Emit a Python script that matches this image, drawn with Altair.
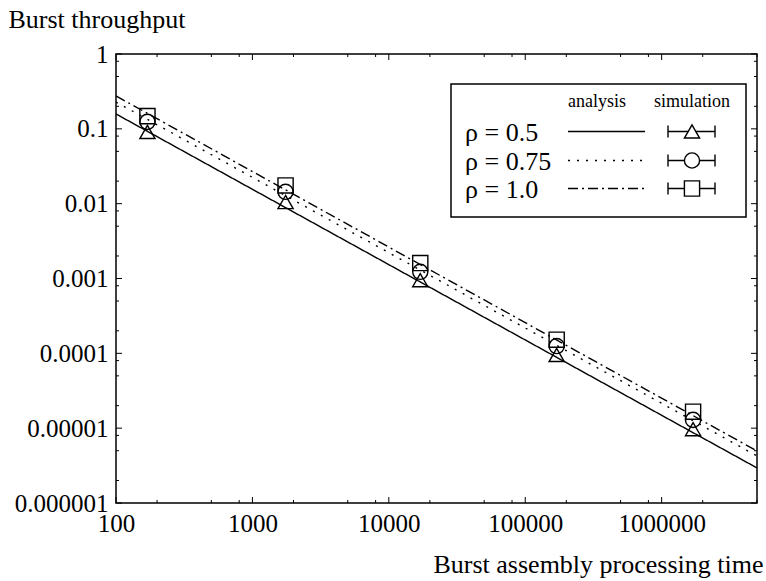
import altair as alt
import pandas as pd

# ---------------- data ----------------
rho_labels = ["0.5", "0.75", "1.0"]
legend_texts = ["ρ = 0.5", "ρ = 0.75", "ρ = 1.0"]
shapes = ["triangle-up", "circle", "square"]
dashes = [[1, 0], [2, 7], [10, 4, 2, 4]]

analysis_x = [100, 5000000]
analysis_05 = [0.158, 0.00000294]
analysis_075 = [0.228, 0.00000425]
analysis_10 = [0.275, 0.00000495]

sim_x = [170, 1750, 17000, 170000, 1700000]
sim_05 = [0.0907, 0.0105, 0.00095, 0.000095, 0.0000097]
sim_075 = [0.124, 0.0144, 0.00123, 0.000125, 0.0000129]
sim_10 = [0.148, 0.0175, 0.00161, 0.000152, 0.0000166]

x_major = [100, 1000, 10000, 100000, 1000000]
y_major = [1, 0.1, 0.01, 0.001, 0.0001, 0.00001, 0.000001]
x_minor = [m * 10 ** k for k in range(2, 7) for m in (2, 5, 8) if m * 10 ** k <= 5000000]
y_minor = [m * 10.0 ** k for k in range(-6, 0) for m in (2, 5, 8)]

# ---------------- tables ----------------
ana = {"0.5": analysis_05, "0.75": analysis_075, "1.0": analysis_10}
sim = {"0.5": sim_05, "0.75": sim_075, "1.0": sim_10}
df_lines = pd.DataFrame([
    {"rho": r, "x": x, "y": y} for r in rho_labels for x, y in zip(analysis_x, ana[r])
])
df_sim = pd.DataFrame([
    {"rho": r, "x": x, "y": y} for r in rho_labels for x, y in zip(sim_x, sim[r])
])

W, H = 641, 449
FONT = "Liberation Serif"
xs = alt.Scale(type="log", domain=[100, 5000000], nice=False)
ys = alt.Scale(type="log", domain=[0.000001, 1], nice=False)

x_axis = alt.Axis(values=x_major, format="d", title="Burst assembly processing time",
                  titleAlign="right", titleBaseline="alphabetic", titleX=647, titleY=69,
                  titleAngle=0)
y_axis = alt.Axis(values=y_major, format=".6~f", title="Burst throughput",
                  titleAlign="left", titleBaseline="alphabetic", titleX=-108, titleY=-27,
                  titleAngle=0)

lines = alt.Chart(df_lines).mark_line(color="black", strokeWidth=1.4, clip=True).encode(
    x=alt.X("x:Q", scale=xs, axis=x_axis),
    y=alt.Y("y:Q", scale=ys, axis=y_axis),
    strokeDash=alt.StrokeDash("rho:N", scale=alt.Scale(domain=rho_labels, range=dashes), legend=None),
)

points = alt.Chart(df_sim).mark_point(filled=False, color="black", strokeWidth=1.4,
                                      size=230, opacity=1).encode(
    x=alt.X("x:Q", scale=xs),
    y=alt.Y("y:Q", scale=ys),
    shape=alt.Shape("rho:N", scale=alt.Scale(domain=rho_labels, range=shapes), legend=None),
)

layers = [lines, points]

# inward ticks on all sides
def xticks(vals, length):
    d = pd.DataFrame({"v": vals})
    bottom = alt.Chart(d).mark_rule(color="black", strokeWidth=1).encode(
        x=alt.X("v:Q", scale=xs), y=alt.value(H), y2=alt.value(H - length))
    top = alt.Chart(d).mark_rule(color="black", strokeWidth=1).encode(
        x=alt.X("v:Q", scale=xs), y=alt.value(0), y2=alt.value(length))
    return [bottom, top]

def yticks(vals, length):
    d = pd.DataFrame({"v": vals})
    left = alt.Chart(d).mark_rule(color="black", strokeWidth=1).encode(
        y=alt.Y("v:Q", scale=ys), x=alt.value(0), x2=alt.value(length))
    right = alt.Chart(d).mark_rule(color="black", strokeWidth=1).encode(
        y=alt.Y("v:Q", scale=ys), x=alt.value(W), x2=alt.value(W - length))
    return [left, right]

layers += xticks(x_major, 6) + xticks(x_minor, 3) + yticks(y_major, 6) + yticks(y_minor, 3)

# ---------------- legend ----------------
one = pd.DataFrame({"k": [0]})
LX0, LX1, LY0, LY1 = 335, 630, 30, 163
layers.append(alt.Chart(one).mark_rect(fill="white", stroke="black", strokeWidth=1.5).encode(
    x=alt.value(LX0), x2=alt.value(LX1), y=alt.value(LY0), y2=alt.value(LY1)))
layers.append(alt.Chart(pd.DataFrame({"t": ["analysis"]})).mark_text(
    font=FONT, fontSize=18, align="center", baseline="alphabetic", color="black").encode(
    text="t:N", x=alt.value(481), y=alt.value(53)))
layers.append(alt.Chart(pd.DataFrame({"t": ["simulation"]})).mark_text(
    font=FONT, fontSize=18, align="center", baseline="alphabetic", color="black").encode(
    text="t:N", x=alt.value(576), y=alt.value(53)))

row_mid = [77.5, 106.5, 134.5]
for i, r in enumerate(rho_labels):
    ym = row_mid[i]
    layers.append(alt.Chart(pd.DataFrame({"t": [legend_texts[i]]})).mark_text(
        font=FONT, fontSize=26, align="left", baseline="alphabetic", color="black").encode(
        text="t:N", x=alt.value(349), y=alt.value(ym + 9)))
    layers.append(alt.Chart(one).mark_rule(color="black", strokeWidth=1.4,
                                           strokeDash=dashes[i]).encode(
        x=alt.value(452), x2=alt.value(529), y=alt.value(ym)))
    layers.append(alt.Chart(one).mark_rule(color="black", strokeWidth=1.4).encode(
        x=alt.value(552), x2=alt.value(599), y=alt.value(ym)))
    for cx in (552, 599):
        layers.append(alt.Chart(one).mark_rule(color="black", strokeWidth=1.4).encode(
            x=alt.value(cx), y=alt.value(ym - 6), y2=alt.value(ym + 6)))
    layers.append(alt.Chart(one).mark_point(filled=True, fill="white", stroke="black",
                                            strokeWidth=1.4, size=230, opacity=1).encode(
        x=alt.value(576), y=alt.value(ym), shape=alt.value(shapes[i])))

chart = alt.layer(*layers).properties(
    width=W, height=H,
    autosize=alt.AutoSizeParams(type="none"),
    padding={"left": 116, "top": 54, "right": 9, "bottom": 78},
    background="white",
).configure_view(stroke="black", strokeWidth=1.5).configure_axis(
    grid=False, ticks=False, domain=False, labelFont=FONT, labelFontSize=25,
    labelColor="black", titleFont=FONT, titleFontSize=26, titleFontWeight="normal",
    titleColor="black", labelPadding=8, labelFlush=False, labelOverlap=False, labelBound=False,
)

chart.save("out.html", embed_options={"renderer": "svg", "actions": False})
